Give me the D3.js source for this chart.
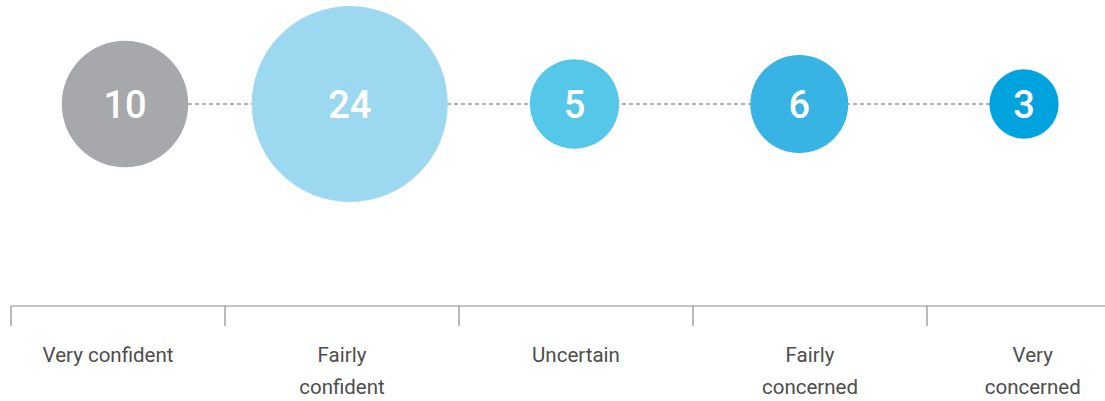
<!DOCTYPE html>
<html><head><meta charset="utf-8">
<script src="https://cdn.jsdelivr.net/npm/d3@7"></script>
<style>html,body{margin:0;padding:0;background:#fff;}svg{display:block;}</style>
</head><body>
<script>
const categories = ["Very confident", "Fairly confident", "Uncertain", "Fairly concerned", "Very concerned"];
const labelLines = [["Very confident"], ["Fairly", "confident"], ["Uncertain"], ["Fairly", "concerned"], ["Very", "concerned"]];
const values = [10, 24, 5, 6, 3];
const colors = ["#a7a8ac", "#9cd9f1", "#55c8ea", "#37b4e3", "#00a3de"];

const W = 1105, H = 401;
const svg = d3.select("body").append("svg").attr("width", W).attr("height", H);

const x = d3.scalePoint().domain(categories).range([125, 1024]);
const r = d3.scaleSqrt().domain([0, 24]).range([0, 98]);
const cy = 104;

// dashed connector
svg.append("line")
  .attr("x1", x(categories[0])).attr("x2", x(categories[categories.length-1]))
  .attr("y1", cy).attr("y2", cy)
  .attr("stroke", "#666").attr("stroke-width", 1).attr("stroke-dasharray", "4,3");

const g = svg.selectAll("g.b").data(categories).enter().append("g").attr("class","b")
  .attr("transform", d => `translate(${x(d)},${cy})`);
g.append("circle").attr("r", (d,i) => r(values[i])).attr("fill", (d,i) => colors[i]);
g.append("text").text((d,i) => values[i])
  .attr("text-anchor","middle").attr("dy","0.36em")
  .attr("fill","#fff").attr("font-family","Roboto, 'Noto Sans', sans-serif")
  .attr("font-size", 38).attr("font-weight", 500);

// bottom axis (band scale)
const band = d3.scaleBand().domain(categories).range([-9, 1161]);
const axisY = 306, left = 11;
svg.append("line").attr("x1", left).attr("x2", W).attr("y1", axisY).attr("y2", axisY)
  .attr("stroke", "#8a8a8a").attr("stroke-width", 1.2);
svg.selectAll("line.tick").data(categories).enter().append("line").attr("class","tick")
  .attr("x1", d => Math.max(left, band(d))).attr("x2", d => Math.max(left, band(d)))
  .attr("y1", axisY).attr("y2", axisY + 20)
  .attr("stroke", "#8a8a8a").attr("stroke-width", 1.2);

const lab = svg.selectAll("text.lab").data(categories).enter().append("text").attr("class","lab")
  .attr("text-anchor","middle").attr("fill","#4d4d4d")
  .attr("font-family","Roboto, 'Noto Sans', sans-serif").attr("font-size", 20.5);
lab.each(function(d,i){
  const t = d3.select(this);
  labelLines[i].forEach((ln,j) => {
    t.append("tspan").attr("y", 362 + j*32).text(ln);
  });
  const w = this.getBBox().width;
  const cx = Math.min(band(d) + band.bandwidth()/2, W - 18 - w/2);
  t.selectAll("tspan").attr("x", cx);
});
</script>
</body></html>
